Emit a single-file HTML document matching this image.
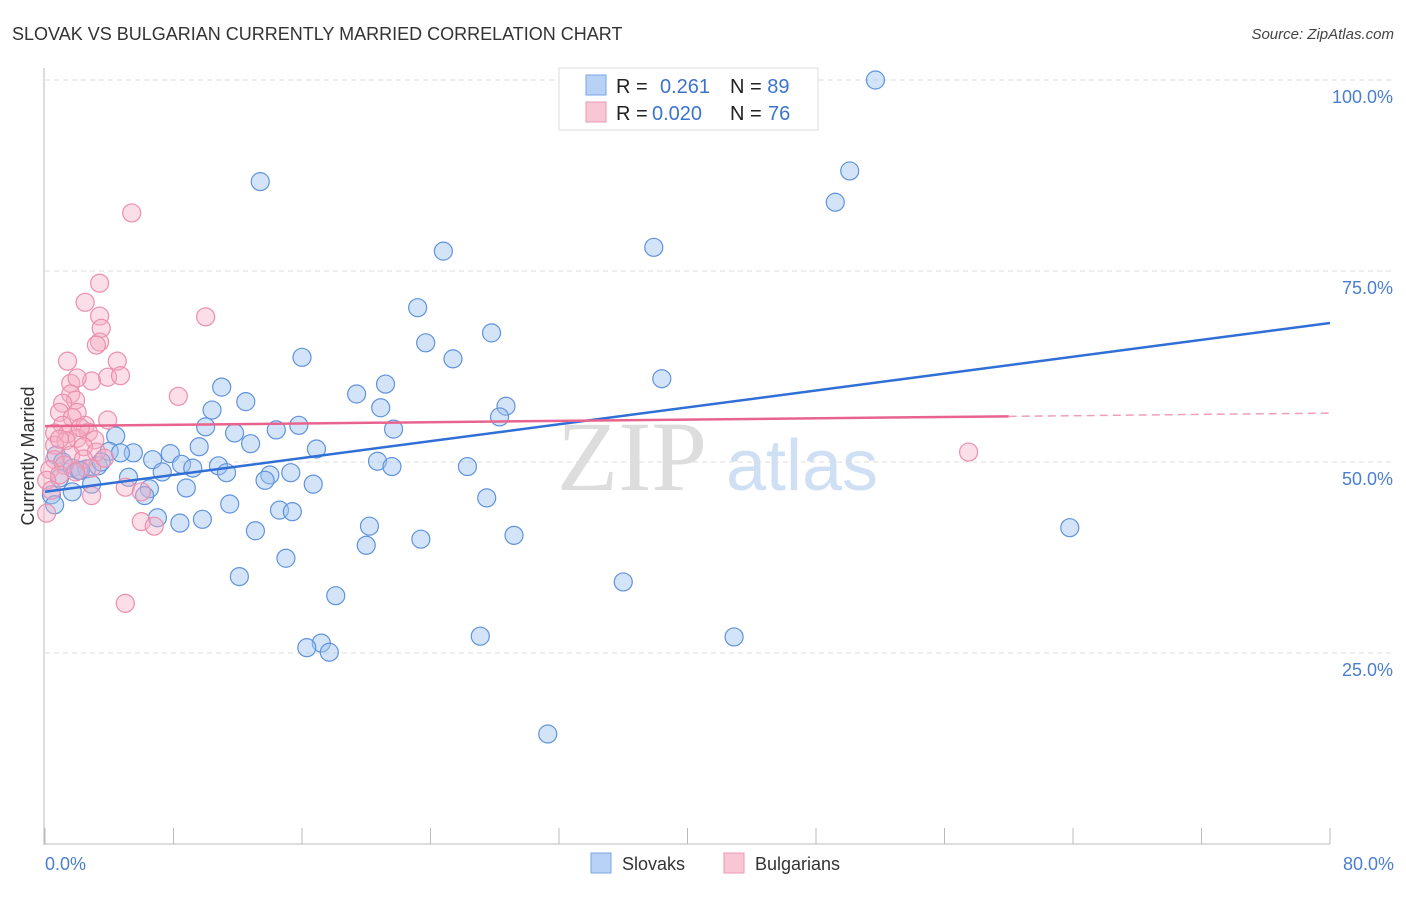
<!DOCTYPE html>
<html><head><meta charset="utf-8"><style>
body{margin:0;background:#fff;font-family:"Liberation Sans",sans-serif}
</style></head><body>
<svg id="chart" width="1406" height="892" xmlns="http://www.w3.org/2000/svg" font-family="Liberation Sans, sans-serif">
<text x="12" y="40" font-size="18" fill="#333">SLOVAK VS BULGARIAN CURRENTLY MARRIED CORRELATION CHART</text>
<text x="1394" y="39" font-size="15" fill="#444" font-style="italic" text-anchor="end">Source: ZipAtlas.com</text>
<g>
<text x="632" y="490" font-size="100" fill="#ddd" font-family="Liberation Serif, serif" text-anchor="middle">ZIP</text>
<text x="802" y="490" font-size="72" fill="#cfe0f5" text-anchor="middle">atlas</text>
</g>
<g id="grid"></g>
<g id="axes"></g>
<g id="pts"></g>
<g id="lines"></g>
<text transform="translate(34,456) rotate(-90)" font-size="18" fill="#333" text-anchor="middle">Currently Married</text>
<text x="45" y="870" font-size="18" fill="#4a7fd0">0.0%</text>
<text x="1394" y="870" font-size="18" fill="#4a7fd0" text-anchor="end">80.0%</text>
<g>
<rect x="559" y="68" width="259" height="62" fill="#fff" stroke="#ddd"/>
<rect x="586" y="75" width="20" height="20" fill="#b8d2f5" stroke="#7aa6e6"/>
<rect x="586" y="102" width="20" height="20" fill="#f9c6d5" stroke="#eb9ab3"/>
<text x="616" y="93" font-size="20" fill="#222">R = <tspan fill="#3c74cc" x="660">0.261</tspan><tspan x="730" fill="#222">N = </tspan><tspan fill="#3c74cc">89</tspan></text>
<text x="616" y="120" font-size="20" fill="#222">R = <tspan fill="#3c74cc" x="652">0.020</tspan><tspan x="730" fill="#222">N = </tspan><tspan fill="#3c74cc" x="768">76</tspan></text>
</g>
<g>
<rect x="591" y="853" width="20" height="20" fill="#b8d2f5" stroke="#7aa6e6"/>
<text x="622" y="870" font-size="18" fill="#333">Slovaks</text></g>
<g>
<rect x="724" y="853" width="20" height="20" fill="#f9c6d5" stroke="#eb9ab3"/>
<text x="755" y="870" font-size="18" fill="#333">Bulgarians</text></g>
</svg>
<script>
const slovakX=[51.7,13.4,50.1,49.2,37.9,24.8,23.2,27.8,23.7,16.0,25.4,38.4,21.2,11.0,19.4,12.5,28.7,10.4,20.9,28.3,15.8,10.0,21.7,14.4,11.8,4.4,12.8,9.6,16.9,4.0,5.5,7.8,4.7,6.7,20.7,8.5,10.8,21.6,26.3,9.2,7.3,11.3,15.3,14.0,13.7,5.2,16.7,8.8,6.5,6.2,27.5,11.5,14.6,15.4,9.8,7.0,8.4,20.2,13.1,29.2,23.4,20.0,63.8,15.0,12.1,36.0,18.1,27.1,42.9,17.2,16.3,17.7,31.3,0.7,1.1,1.7,2.6,2.1,3.3,2.9,1.7,0.4,0.9,3.5,0.6,2.2];
const slovakY=[100,86.7,88.1,84.0,78.1,77.6,70.2,66.9,65.6,63.7,63.5,60.9,60.2,59.8,58.9,57.9,57.3,56.8,57.1,55.9,54.8,54.6,54.3,54.2,53.8,53.4,52.4,52.0,51.7,51.4,51.2,51.1,51.2,50.3,50.1,49.7,49.5,49.4,49.4,49.2,48.7,48.6,48.6,48.3,47.6,48.0,47.1,46.6,46.5,45.6,45.3,44.5,43.7,43.5,42.5,42.7,42.0,41.6,41.0,40.4,39.9,39.1,41.4,37.4,35.0,34.3,32.5,27.2,27.1,26.3,25.7,25.1,14.4,50.9,50.0,49.2,49.1,48.9,49.5,47.1,46.1,45.7,47.9,50.0,44.4,48.9];
const bulgX=[5.4,3.4,2.5,10.0,3.4,3.5,3.4,3.2,4.5,1.4,2.9,3.9,4.7,1.6,2.0,8.3,1.6,1.9,1.1,0.9,2.0,1.7,3.9,2.5,1.1,2.7,1.4,0.6,2.0,3.1,1.3,0.6,2.4,3.2,1.6,0.6,2.4,1.2,2.9,0.3,0.9,0.1,0.4,5.0,6.0,2.9,0.1,6.0,6.8,5.0,57.5,1.9,3.7,0.9,2.2];
const bulgY=[82.6,73.4,70.9,69.0,69.1,67.5,65.7,65.3,63.2,63.2,60.6,61.1,61.3,60.3,61.0,58.6,58.9,58.1,57.7,56.5,56.5,55.8,55.5,54.8,54.8,53.9,53.7,53.8,53.1,52.9,52.8,52.2,52.0,51.3,50.9,50.3,50.4,49.6,49.2,49.0,48.3,47.6,46.3,46.7,46.1,45.6,43.3,42.2,41.6,31.5,51.3,48.7,50.5,53.0,54.5];
const yTicks=[25,50,75,100];
const yTickLabels=["25.0%","50.0%","75.0%","100.0%"];
const xTicks=[0,8,16,24,32,40,48,56,64,72,80];
const blueTrend=[46.1,68.2];
const pinkTrend=[54.7,56.4];
const NS="http://www.w3.org/2000/svg";
const X=v=>45+v/80*1285, Y=v=>844-v/100*764;
function mk(p,t,a){const e=document.createElementNS(NS,t);for(const k in a)e.setAttribute(k,a[k]);p.appendChild(e);return e;}
const grid=document.getElementById('grid'),axes=document.getElementById('axes'),pts=document.getElementById('pts'),lines=document.getElementById('lines');
yTicks.forEach((t,i)=>{
 const l=mk(grid,'line',{x1:45,x2:1394,y1:Y(t),y2:Y(t),stroke:'#ddd','stroke-dasharray':'5,4'});
 
 
 const tx=mk(grid,'text',{x:1393,y:Y(t)+23,'font-size':18,fill:'#4a7fd0','text-anchor':'end'});
 tx.textContent=yTickLabels[i];
 
 
});
const ya=mk(axes,'line',{x1:44,x2:44,y1:68,y2:845,stroke:'#bbb'});


const xa=mk(axes,'line',{x1:44,x2:1330,y1:844,y2:844,stroke:'#bbb'});


xTicks.forEach(t=>{
 const l=mk(axes,'line',{x1:X(t),x2:X(t),y1:828,y2:844,stroke:'#bbb'});
 
 
});
slovakX.forEach((v,i)=>{
 const c=mk(pts,'circle',{cx:X(v),cy:Y(slovakY[i]),r:9,fill:'rgba(160,196,240,0.45)',stroke:'#5f93dc','stroke-width':1.2});
 
 
});
bulgX.forEach((v,i)=>{
 const c=mk(pts,'circle',{cx:X(v),cy:Y(bulgY[i]),r:9,fill:'rgba(246,172,196,0.4)',stroke:'#ec8fae','stroke-width':1.2});
 
 
});
const bl=mk(lines,'line',{x1:X(0),y1:Y(blueTrend[0]),x2:X(80),y2:Y(blueTrend[1]),stroke:'#2f6fd6','stroke-width':2.5});


const pm=pinkTrend[0]+(pinkTrend[1]-pinkTrend[0])*60/80;
const pl=mk(lines,'line',{x1:X(0),y1:Y(pinkTrend[0]),x2:X(60),y2:Y(pm),stroke:'#e8648f','stroke-width':2.5});


const pd=mk(lines,'line',{x1:X(60),y1:Y(pm),x2:X(80),y2:Y(pinkTrend[1]),stroke:'#eea0b8','stroke-width':1.5,'stroke-dasharray':'8,5'});


</script>
</body></html>
